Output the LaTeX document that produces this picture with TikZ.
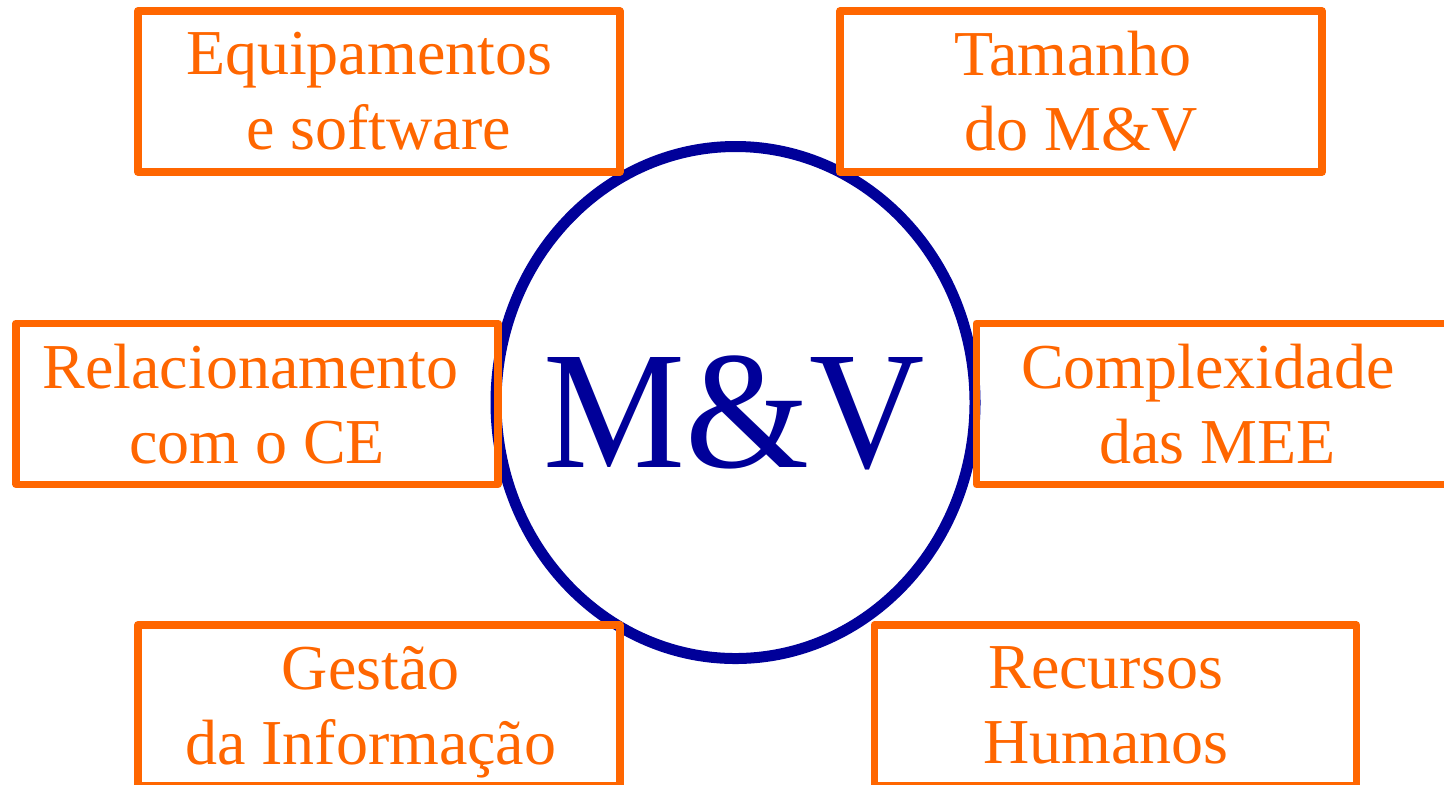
\documentclass[tikz,border=0pt]{standalone}
\usepackage{fontspec}
\setmainfont{Liberation Serif}
\usetikzlibrary{shapes.geometric}
\definecolor{orng}{HTML}{FF6600}
\definecolor{navy}{HTML}{000099}
\begin{document}
\begin{tikzpicture}[x=0.5pt,y=-0.5pt,
  box/.style={draw=orng, line width=3.75pt, line join=round, minimum width=241pt,
    minimum height=80.5pt, inner sep=0pt, align=center, text=orng,
    font=\fontsize{32}{37.5}\selectfont},
  ring/.style={draw=navy, line width=5.5pt, ellipse, minimum width=239.5pt,
    minimum height=256pt, inner sep=0pt},
  bigtext/.style={text=navy, inner sep=0pt, font=\fontsize{84}{96}\selectfont}]
\useasboundingbox (0,0) rectangle (1444,784);
\clip (0,0) rectangle (1444,784);
\node[ring] (mv) at (735.5,402.5) {};
\node[bigtext] (mvtext) at (734,413) {\scalebox{0.95}[1]{M\&V}};
\node[box] (equip) at (378.75,91.5) {Equipamentos\hspace*{.3em}\\e software};
\node[box] (tam) at (1081,91.5) {Tamanho\hspace*{.25em}\\do M\&V};
\node[box] (rel) at (257,403.75) {Relacionamento\hspace*{.2em}\\com o CE};
\node[box] (comp) at (1217.5,403.75) {Complexidade\hspace*{.3em}\\das MEE};
\node[box] (gest) at (378.75,705.5) {Gestão\hspace*{.25em}\\da Informa\smash{ç}ão\hspace*{.25em}};
\node[box] (rec) at (1115.25,705.5) {Recursos\hspace*{.3em}\\Humanos\hspace*{.3em}};
\end{tikzpicture}
\end{document}
